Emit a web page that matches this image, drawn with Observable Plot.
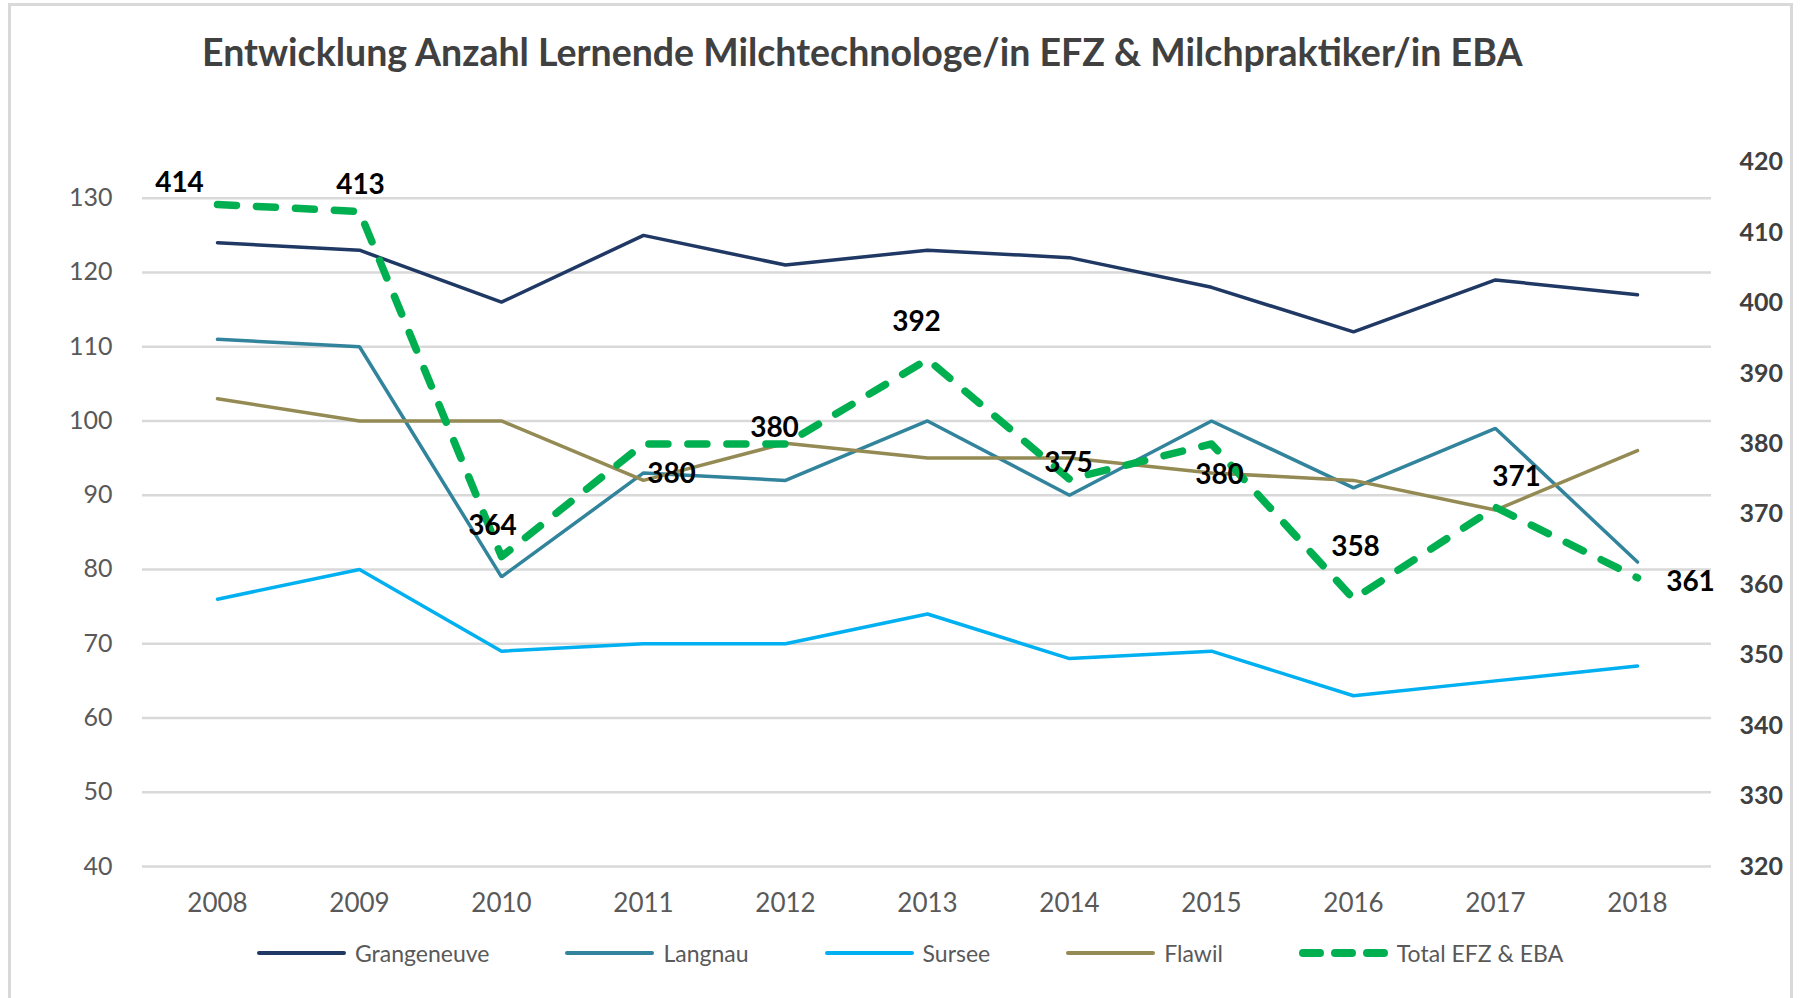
<!DOCTYPE html>
<html>
<head>
<meta charset="utf-8">
<script src="https://cdn.jsdelivr.net/npm/d3@7"></script>
<script src="https://cdn.jsdelivr.net/npm/@observablehq/plot@0.6"></script>
<style>
  html, body { margin: 0; padding: 0; background: #fff; }
  #wrap { position: relative; width: 1800px; height: 998px; overflow: hidden; font-family: Lato, "Open Sans", sans-serif; }
  #frame { position: absolute; left: 8px; top: 3px; width: 1785px; height: 1000px; border: 3px solid #d9d9d9; box-sizing: border-box; }
  #title { position: absolute; left: 202px; top: 29px; font-size: 37.5px; font-weight: 700; color: #404040; white-space: nowrap; }
  #chart { position: absolute; left: 0; top: 0; }
  #legend { position: absolute; left: 257px; top: 938px; display: flex; align-items: center; gap: 76px; font-size: 23px; color: #595959; }
  .item { display: flex; align-items: center; gap: 9px; }
  .item svg { display: block; }
</style>
</head>
<body>
<div id="wrap">
  <div id="frame"></div>
  <div id="chart"></div>
  <div id="title"></div>
  <div id="legend"></div>
</div>
<script>
// ---- data ----
const titleText = "Entwicklung Anzahl Lernende Milchtechnologe/in EFZ & Milchpraktiker/in EBA";
const years = [2008, 2009, 2010, 2011, 2012, 2013, 2014, 2015, 2016, 2017, 2018];
const grangeneuve = [124, 123, 116, 125, 121, 123, 122, 118, 112, 119, 117];
const langnau     = [111, 110, 79, 93, 92, 100, 90, 100, 91, 99, 81];
const sursee      = [76, 80, 69, 70, 70, 74, 68, 69, 63, 65, 67];
const flawil      = [103, 100, 100, 92, 97, 95, 95, 93, 92, 88, 96];
const total       = [414, 413, 364, 380, 380, 392, 375, 380, 358, 371, 361];
const seriesNames = ["Grangeneuve", "Langnau", "Sursee", "Flawil"];
const totalName = "Total EFZ & EBA";
const leftTicks = [40, 50, 60, 70, 80, 90, 100, 110, 120, 130];
const rightTicks = [320, 330, 340, 350, 360, 370, 380, 390, 400, 410, 420];

// ---- styles ----
const seriesColors = ["#1F3864", "#31849B", "#00B0F0", "#948A54"];
const totalColor = "#00B050";
// manual data label nudges (dx, dy) as in the original chart
const labelNudges = [[-38,-21],[1,-26],[-9,-31],[28,30],[-11,-16],[-11,-37],[-1,-16],[8,31],[2,-52],[21,-30],[53,4]];

// secondary axis (right) mapped onto primary (left) units
const k = 7.043 / 7.4256;
const toLeft = v => 40 + (v - 320) * k;
const fromLeft = u => 320 + (u - 40) / k;

const schoolData = [grangeneuve, langnau, sursee, flawil].flatMap((arr, s) =>
  arr.map((v, i) => ({ series: seriesNames[s], year: years[i], value: v })));
const totalData = total.map((v, i) => ({ year: years[i], value: v, y: toLeft(v) }));

const plot = Plot.plot({
  width: 1800,
  height: 998,
  marginLeft: 142,
  marginRight: 89,
  marginTop: 160.6,
  marginBottom: 132,
  style: { fontFamily: "Lato, 'Open Sans', sans-serif", background: "transparent", overflow: "visible" },
  x: { type: "point", domain: years, padding: 0.5 },
  y: { domain: [40, 135] },
  color: { domain: seriesNames, range: seriesColors },
  marks: [
    Plot.gridY(leftTicks, { stroke: "#d9d9d9", strokeWidth: 2.5, strokeOpacity: 1 }),
    Plot.axisY(leftTicks, { anchor: "left", tickSize: 0, tickPadding: 30, fontSize: 25, fill: "#595959", label: null }),
    Plot.axisY(rightTicks.map(toLeft), { anchor: "right", tickSize: 0, tickPadding: 28, fontSize: 25, fontWeight: 700, fill: "#404040", label: null, tickFormat: d => String(Math.round(fromLeft(d))) }),
    Plot.axisX({ tickSize: 0, tickPadding: 27, fontSize: 26, fill: "#595959", label: null, tickFormat: d => String(d) }),
    Plot.line(schoolData, { x: "year", y: "value", stroke: "series", z: "series", strokeWidth: 3.5, strokeLinejoin: "miter" }),
    Plot.line(totalData, { x: "year", y: "y", stroke: totalColor, strokeWidth: 7.5, strokeDasharray: "19,20", strokeLinecap: "round", strokeLinejoin: "round" }),
    ...totalData.map((d, i) => Plot.text([d], { x: "year", y: "y", text: d => String(d.value), dx: labelNudges[i][0], dy: labelNudges[i][1], fontSize: 28, fontWeight: 700, fill: "#000" }))
  ]
});
document.getElementById("chart").appendChild(plot);
document.getElementById("title").textContent = titleText;

// ---- legend ----
const legend = document.getElementById("legend");
const entries = seriesNames.map((n, i) => ({ name: n, color: seriesColors[i], dashed: false }))
  .concat([{ name: totalName, color: totalColor, dashed: true }]);
for (const e of entries) {
  const item = document.createElement("div");
  item.className = "item";
  const svg = d3.create("svg").attr("width", 89).attr("height", 30);
  if (e.dashed) {
    svg.append("line").attr("x1", 4).attr("x2", 86).attr("y1", 15).attr("y2", 15)
      .attr("stroke", e.color).attr("stroke-width", 8).attr("stroke-linecap", "round").attr("stroke-dasharray", "17,15");
  } else {
    svg.append("line").attr("x1", 2).attr("x2", 87).attr("y1", 15).attr("y2", 15)
      .attr("stroke", e.color).attr("stroke-width", 4).attr("stroke-linecap", "round");
  }
  item.appendChild(svg.node());
  const span = document.createElement("span");
  span.textContent = e.name;
  item.appendChild(span);
  legend.appendChild(item);
}
</script>
</body>
</html>
